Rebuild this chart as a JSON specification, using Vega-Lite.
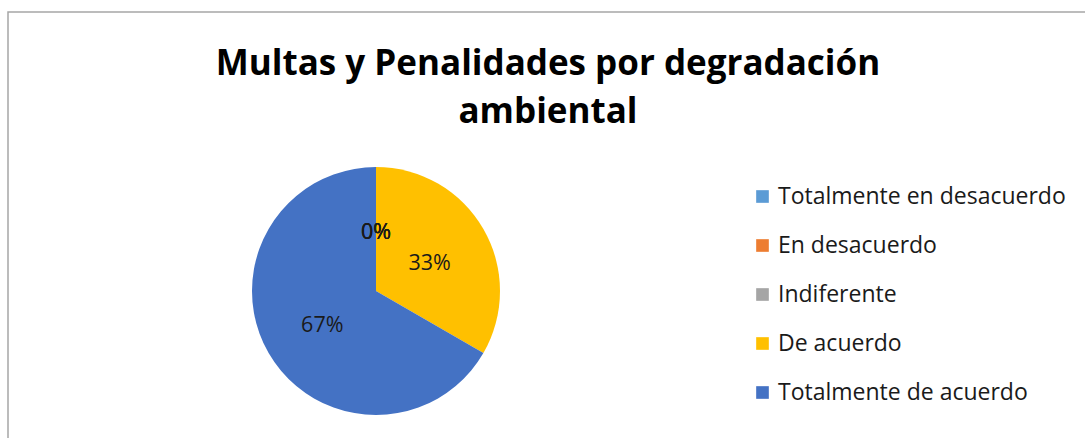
{
  "$schema": "https://vega.github.io/schema/vega-lite/v6.json",
  "width": 1085,
  "height": 438,
  "autosize": {"type": "fit", "contains": "padding"},
  "padding": {"left": 8, "top": 12, "right": -3, "bottom": -3},
  "background": "white",
  "view": {"stroke": "#a6a6a6", "strokeWidth": 1.5},
  "config": {"view": {"stroke": "#a6a6a6", "strokeWidth": 1.5}},
  "title": {
    "text": ["Multas y Penalidades por degradación", "ambiental"],
    "font": "Open Sans",
    "fontSize": 35,
    "fontWeight": "bold",
    "color": "#000000",
    "anchor": "middle",
    "frame": "group",
    "offset": -118,
    "lineHeight": 48
  },
  "data": {
    "values": [
      {"categoria": "Totalmente en desacuerdo", "pct": 0, "orden": 1},
      {"categoria": "En desacuerdo", "pct": 0, "orden": 2},
      {"categoria": "Indiferente", "pct": 0, "orden": 3},
      {"categoria": "De acuerdo", "pct": 0.3333, "orden": 4},
      {"categoria": "Totalmente de acuerdo", "pct": 0.6667, "orden": 5}
    ]
  },
  "layer": [
    {
      "mark": {"type": "arc", "radius": 124, "x": 368, "y": 279},
      "encoding": {
        "theta": {"field": "pct", "type": "quantitative", "stack": true},
        "order": {"field": "orden", "type": "quantitative"},
        "color": {
          "field": "categoria",
          "type": "nominal",
          "scale": {
            "domain": ["Totalmente en desacuerdo", "En desacuerdo", "Indiferente", "De acuerdo", "Totalmente de acuerdo"],
            "range": ["#5B9BD5", "#ED7D31", "#A5A5A5", "#FFC000", "#4472C4"]
          },
          "legend": {
            "title": null,
            "orient": "none",
            "legendX": 743,
            "legendY": 173,
            "symbolType": "square",
            "symbolSize": 160,
            "symbolStrokeWidth": 0,
            "labelFont": "Open Sans",
            "labelFontSize": 23,
            "labelColor": "#1a1a1a",
            "labelOffset": 4,
            "rowPadding": 25,
            "labelLimit": 400
          }
        }
      }
    },
    {
      "mark": {"type": "text", "radius": 62, "x": 368, "y": 283, "font": "Open Sans", "fontSize": 21.5, "color": "#1a1a1a"},
      "encoding": {
        "theta": {"field": "pct", "type": "quantitative", "stack": true},
        "order": {"field": "orden", "type": "quantitative"},
        "text": {"field": "pct", "type": "quantitative", "format": ".0%"}
      }
    }
  ]
}
